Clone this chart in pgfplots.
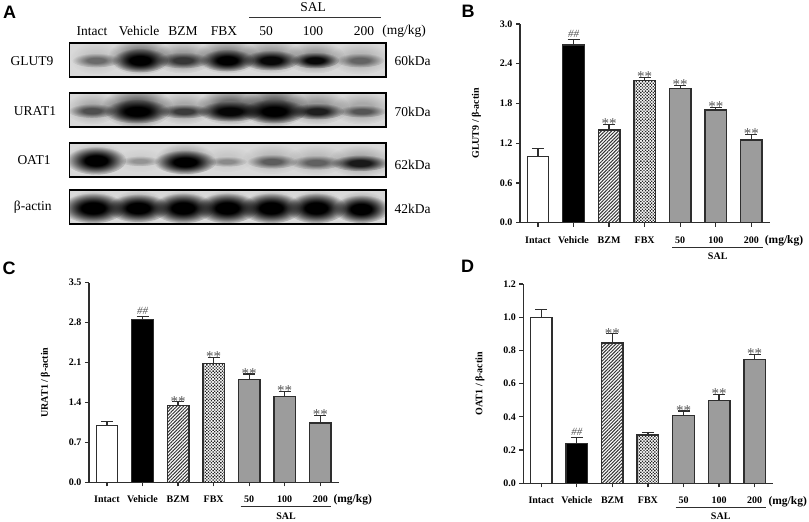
\documentclass[border=0pt]{standalone}
\usepackage{fontspec}
\setmainfont{Liberation Serif}
\newfontfamily\panelfont{Liberation Sans}
\usepackage{pgfplots}
\usepackage{pgfplotstable}
\pgfplotsset{compat=1.18}
\usetikzlibrary{patterns.meta,fadings}

\definecolor{gel}{HTML}{D9D9D9}
\definecolor{barline}{HTML}{2E2E2E}
\definecolor{salgray}{HTML}{9C9C9C}
\definecolor{markgray}{HTML}{555555}

\newcommand{\fs}[1]{\fontsize{#1}{#1}\selectfont}

% soft band for the blots
\pgfdeclareradialshading{blotmask}{\pgfpointorigin}{%
  color(0bp)=(pgftransparent!0);
  color(9bp)=(pgftransparent!0);
  color(25bp)=(pgftransparent!100);
  color(50bp)=(pgftransparent!100)}
\pgfdeclarefading{blotfade}{\pgfuseshading{blotmask}}
\pgfdeclareplotmark{blot}{%
  \fill[black,opacity=\bd,path fading=blotfade] (0,0) ellipse [x radius=\bw pt,y radius=\bh pt];}

\pgfplotsset{
  blot axis/.style={
    anchor=south west, scale only axis, width=316.7pt, height=34pt,
    xmin=0, xmax=316.7, ymin=0, ymax=34,
    ticks=none, axis on top, clip marker paths=true,
    axis line style={black,line width=1.6pt},
    axis background/.style={fill=gel}},
  blot points/.style={
    scatter, only marks, mark=blot, point meta=x,
    visualization depends on={\thisrow{w}\as\bw},
    visualization depends on={\thisrow{h}\as\bh},
    visualization depends on={\thisrow{d}\as\bd},
    scatter/@pre marker code/.code={\scope},
    scatter/@post marker code/.code={\endscope}},
  bar axis/.style={
    anchor=south west, scale only axis, width=250pt,
    xmin=-0.506, xmax=6.526, ymin=0,
    axis lines=left, axis line style={-,barline,line width=1.2pt},
    tick style={barline,line width=1.2pt}, tick align=outside,
    major tick length=4pt,
    xtick={0,...,6},
    xticklabels={Intact,Vehicle,BZM,FBX,50,100,200},
    xticklabel style={anchor=base,yshift=-16.5pt},
    tick label style={font=\fs{10}\bfseries},
    yticklabel style={/pgf/number format/fixed,/pgf/number format/fixed zerofill,
      /pgf/number format/precision=1,/pgf/number format/assume math mode=true},
    ylabel style={at={(axis description cs:-0.174,0.5)},anchor=center,font=\fs{10}\bfseries}},
  bar base/.style={
    ybar, bar width=21.5pt, draw=barline, line width=1.4pt,
    error bars/y dir=plus, error bars/y explicit,
    error bars/error mark options={rotate=90,mark size=6pt,line width=1.2pt,barline},
    error bars/error bar style={barline,line width=1.2pt,solid}},
  white bar/.style={bar base, fill=white},
  black bar/.style={bar base, fill=black},
  hatch bar/.style={bar base, pattern={Lines[angle=45,distance=2.4pt,line width=1pt]}, pattern color=black!80},
  dots bar/.style={bar base, pattern={Dots[angle=45,distance=2.2pt,radius=0.95pt]}, pattern color=black!85},
  sal bar/.style={bar base, fill=salgray},
  stars/.style={only marks, mark=none, nodes near coords={**},
    nodes near coords style={anchor=south,inner sep=0pt,yshift=-4.5pt,font=\fs{15},text=markgray}},
  hashes/.style={only marks, mark=none, nodes near coords={\#\#},
    nodes near coords style={anchor=south,inner sep=0pt,yshift=2pt,font=\fs{11}\itshape,text=markgray}},
}

% x y w h d, x in page pixels, y from the bottom of the strip
\pgfplotstableread{
x y w h d
96 19 26 16 .10
140 21 32 18 .45
183 20 30 16 .28
227 21 32 17 .40
271 21 32 17 .30
315 20 30 16 .30
360 19 30 16 .16
96 17 24 7 .45
140 17 28 12 1
183 17 26 8 .65
227 17 27 11 1
271 17 28 10 .95
315 17 24 8 .95
360 17 24 7 .45
}\glutdata
\pgfplotstableread{
x y w h d
92 19 26 16 .20
137 20 36 20 .55
184 19 28 16 .22
230 21 34 18 .50
274 21 34 20 .55
317 20 32 17 .30
362 19 30 16 .22
92 16.5 24 7 .55
137 16 32 12 1
184 16 26 7 .65
230 16 32 10 .95
274 16 32 12 1
317 16 27 8 .80
362 16 24 6 .50
}\uratdata
\pgfplotstableread{
x y w h d
96 18 30 16 .20
140 17 26 12 .05
185 18 30 16 .30
227 18 26 13 .08
272 18 30 15 .14
316 17 30 15 .14
360 16 32 16 .22
96 16.5 30 14 1
140 16 20 5 .28
185 15 31 12 1
227 15.5 20 5 .30
272 15.5 25 7 .50
316 14.5 26 7 .48
360 14 29 8 .85
}\oatdata
\pgfplotstableread{
x y w h d
93 17 28 17 .30
138 17 28 17 .30
183 17 28 17 .30
227 17 28 17 .30
271 17 28 17 .30
316 17 28 17 .30
361 17 26 16 .28
93 16 32 15 1
138 16 31 14 1
183 16 31 15 1
227 16 31 15 1
271 16 31 15 1
316 16 30 15 1
361 15 28 14 1
}\actindata

\begin{document}
\begin{tikzpicture}[x=1pt,y=1pt]
\path[use as bounding box] (0,0) rectangle (809,522);

% panel A strips
\begin{axis}[blot axis, at={(69.3pt,444.7pt)}]
\addplot[blot points] table [x expr=\thisrow{x}-69.3] {\glutdata};
\end{axis}
\begin{axis}[blot axis, at={(69.3pt,394.7pt)}]
\addplot[blot points] table [x expr=\thisrow{x}-69.3] {\uratdata};
\end{axis}
\begin{axis}[blot axis, at={(69.3pt,345pt)}]
\addplot[blot points] table [x expr=\thisrow{x}-69.3] {\oatdata};
\end{axis}
\begin{axis}[blot axis, at={(69.3pt,298pt)}]
\addplot[blot points] table [x expr=\thisrow{x}-69.3] {\actindata};
\end{axis}

% panel B
\begin{axis}[bar axis, at={(520pt,299.3pt)}, height=198.7pt, ymax=3,
  ytick={0,0.6,1.2,1.8,2.4,3.0}, ylabel={GLUT9 / β-actin}]
\addplot[white bar] coordinates {(0,1.00) +- (0,0.12)};
\addplot[black bar] coordinates {(1,2.68) +- (0,0.09)};
\addplot[hatch bar] coordinates {(2,1.40) +- (0,0.08)};
\addplot[dots bar] coordinates {(3,2.15) +- (0,0.04)};
\addplot[sal bar] coordinates {(4,2.03) +- (0,0.04) (5,1.70) +- (0,0.04) (6,1.25) +- (0,0.08)};
\addplot[hashes] coordinates {(1,2.77)};
\addplot[stars] coordinates {(2,1.48) (3,2.19) (4,2.07) (5,1.74) (6,1.33)};
\end{axis}

% panel C
\begin{axis}[bar axis, at={(89pt,39.7pt)}, height=199.6pt, ymax=3.5,
  ytick={0,0.7,1.4,2.1,2.8,3.5}, ylabel={URAT1 / β-actin}]
\addplot[white bar] coordinates {(0,1.00) +- (0,0.07)};
\addplot[black bar] coordinates {(1,2.85) +- (0,0.06)};
\addplot[hatch bar] coordinates {(2,1.35) +- (0,0.06)};
\addplot[dots bar] coordinates {(3,2.08) +- (0,0.11)};
\addplot[sal bar] coordinates {(4,1.80) +- (0,0.10) (5,1.50) +- (0,0.09) (6,1.04) +- (0,0.13)};
\addplot[hashes] coordinates {(1,2.91)};
\addplot[stars] coordinates {(2,1.41) (3,2.19) (4,1.90) (5,1.59) (6,1.17)};
\end{axis}

% panel D
\begin{axis}[bar axis, at={(523.3pt,38.7pt)}, height=199.3pt, ymax=1.2,
  ytick={0,0.2,0.4,0.6,0.8,1.0,1.2}, ylabel={OAT1 / β-actin}]
\addplot[white bar] coordinates {(0,1.00) +- (0,0.045)};
\addplot[black bar] coordinates {(1,0.24) +- (0,0.035)};
\addplot[hatch bar] coordinates {(2,0.845) +- (0,0.055)};
\addplot[dots bar] coordinates {(3,0.29) +- (0,0.015)};
\addplot[sal bar] coordinates {(4,0.41) +- (0,0.025) (5,0.50) +- (0,0.035) (6,0.745) +- (0,0.03)};
\addplot[hashes] coordinates {(1,0.275)};
\addplot[stars] coordinates {(2,0.90) (4,0.435) (5,0.535) (6,0.775)};
\end{axis}

% text and rules, in page pixels from the top left
\begin{scope}[shift={(0,522)},x=1pt,y=-1pt]
\tikzset{
  pl/.style={font=\panelfont\bfseries\fs{18},inner sep=0pt},
  lane/.style={font=\fs{13.5},inner sep=0pt},
  unit/.style={font=\fs{11.5}\bfseries,inner sep=0pt},
  sal/.style={font=\fs{10}\bfseries,inner sep=0pt}}
\node[pl] at (9.5,12.5) {A};
\node[pl] at (468,11) {B};
\node[pl] at (9,268) {C};
\node[pl] at (467.5,266) {D};

\node[lane] at (92,31) {Intact};
\node[lane] at (139,31) {Vehicle};
\node[lane] at (183,31) {BZM};
\node[lane] at (224,31) {FBX};
\node[lane] at (266,31) {50};
\node[lane] at (313,31) {100};
\node[lane] at (364,31) {200};
\node[lane] at (404,31) {(mg/kg)};
\node[lane] at (313,7.3) {SAL};
\draw[line width=0.9pt,black!80] (249,17.7) -- (381,17.7);
\node[lane] at (32,60.7) {GLUT9};
\node[lane] at (35,111) {URAT1};
\node[lane] at (34,160) {OAT1};
\node[lane] at (32.7,207) {β-actin};
\node[lane] at (412.7,61) {60kDa};
\node[lane] at (412.7,111.7) {70kDa};
\node[lane] at (412.7,165) {62kDa};
\node[lane] at (412.7,209) {42kDa};

\node[unit] at (784,240.3) {(mg/kg)};
\draw[line width=1pt,barline] (672,247.3) -- (762.7,247.3);
\node[sal] at (717.7,256) {SAL};

\node[unit] at (352.7,500) {(mg/kg)};
\draw[line width=1pt,barline] (240.7,507) -- (331,507);
\node[sal] at (286,516) {SAL};

\node[unit] at (787.7,501.3) {(mg/kg)};
\draw[line width=1pt,barline] (675.7,508) -- (765.7,508);
\node[sal] at (720.7,516.7) {SAL};
\end{scope}
\end{tikzpicture}
\end{document}
